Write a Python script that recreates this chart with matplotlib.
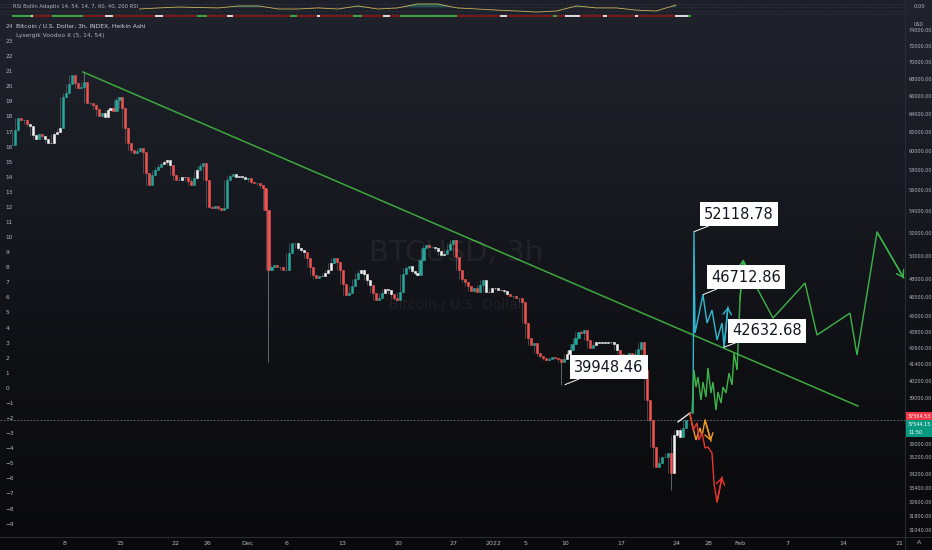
import numpy as np
import pandas as pd
import matplotlib
matplotlib.use("Agg")
import matplotlib.pyplot as plt
import matplotlib.dates as mdates
from matplotlib.colors import LinearSegmentedColormap
from matplotlib.lines import Line2D
from matplotlib.ticker import FixedLocator, FuncFormatter, NullLocator

W, H = 932, 550
base = pd.Timestamp("2021-11-08")

# ---------------- data ----------------
candle_start = "2021-11-01 10:00"
closes = [
    60590, 62200, 63510, 63290, 63290, 62850, 62630, 61660, 61230, 61770,
    61550, 61230, 60810, 60810, 61770, 61980, 62420, 65870, 66340, 67380,
    68440, 67500, 66910, 67030, 67620, 65190, 65190, 64960, 64510, 63730,
    64070, 63620, 64400, 64620, 64290, 65530, 65870, 64620, 62420, 60810,
    60070, 59760, 59970, 60280, 59860, 57720, 56520, 57520, 58020, 58320,
    58630, 58840, 59040, 58530, 57520, 57020, 57020, 57320, 57320, 56920,
    56520, 57220, 58020, 58420, 58730, 57020, 54400, 54310, 54490, 54310,
    54120, 54310, 57020, 57410, 57620, 57320, 57410, 57320, 57120, 57220,
    56820, 56720, 56720, 56520, 56230, 54120, 48760, 49010, 49180, 49010,
    49010, 48760, 48760, 50220, 51100, 51100, 50660, 50480, 50310, 49790,
    49010, 48330, 48080, 48250, 48250, 48500, 48760, 49360, 49790, 49440,
    48760, 47590, 46680, 46850, 47420, 48000, 48500, 48760, 48420, 47920,
    47500, 46850, 46280, 46440, 46850, 47170, 47090, 46770, 46440, 46280,
    46930, 48420, 48930, 49100, 48670, 48500, 48330, 49610, 50660, 50920,
    50750, 50750, 50660, 50400, 50050, 50130, 50480, 51010, 51370, 49870,
    48760, 48000, 47750, 47420, 47010, 47260, 46930, 47500, 47920, 46930,
    46930, 47260, 47260, 47090, 47090, 47010, 46770, 46600, 46600, 46440,
    46440, 46120, 44470, 43320, 42790, 42940, 42200, 41980, 41840, 41690,
    41760, 41910, 41840, 41760, 41550, 41760, 42130, 42420, 42870, 43320,
    43770, 43700, 43930, 43170, 42570, 42790, 43020, 42940, 43020, 42940,
    43020, 43020, 42870, 42420, 42130, 41910, 42060, 42200, 42060, 42130,
    42500, 43020, 40970, 38890, 37570, 35840, 34610, 34860, 35220, 35220,
    35470, 34250, 36600, 36920, 36470, 37050, 37570,
]
# candles the indicator paints white (first, last index)
white_runs = [(6, 8), (11, 13), (14, 16), (31, 33), (51, 53), (57, 58), (62, 62),
              (75, 78), (96, 98), (104, 107), (117, 120), (125, 127), (134, 136),
              (142, 145), (159, 166), (186, 187), (196, 203), (222, 224)]
# long wicks
wick_idx = [24, 86, 184, 221]
wick_end = [68800, 41550, 39948.46, 33250]

last_price = 37544.15
prev_price = 37564.53

# trend line (days after 2021-11-08)
trend_days = [2.33, 99.83]
trend_price = [68800, 38490]

# drawn projections
cyan_days = [79.08, 79.20, 79.33, 80.33, 80.84, 81.47, 82.10, 82.73, 82.98, 83.48]
cyan_price = [38030, 52118.78, 43700, 46712.86, 44470, 45480, 43170, 44470, 42632.68, 45720]
green_days = [78.95, 79.20, 79.45, 79.70, 80.08, 80.33, 80.71, 80.96, 81.34, 81.59,
              81.97, 82.22, 82.60, 82.85, 83.23, 83.61, 83.99, 84.24, 84.62, 84.99,
              85.37, 87.26, 89.14, 93.17, 94.68, 98.83, 99.71, 102.23, 105.6]
green_price = [38030, 40970, 39780, 40480, 38890, 40130, 39100, 41120, 39370, 40130,
               38220, 39440, 38690, 39780, 39370, 40760, 39920, 42200, 40970, 46280,
               49610, 47090, 44850, 47670, 43550, 45240, 42060, 52090, 48080]
orange_days = [78.70, 79.45, 79.96, 80.21, 80.59, 81.34]
orange_price = [37890, 36280, 37050, 36530, 37570, 36215]
red_days = [78.70, 79.08, 79.58, 79.83, 80.21, 80.59, 80.96, 81.47, 81.59, 81.72, 82.10, 82.73]
red_price = [38030, 36920, 37370, 36280, 36730, 35780, 35840, 35470, 34610, 33660, 32570, 34020]
white_days = [77.19, 78.70]
white_price = [37440, 38030]

# price callouts: label, day, price, box offset (px)
notes = [("52118.78", 79.20, 52118.78, (10, 10)),
         ("46712.86", 80.33, 46712.86, (8, 10)),
         ("42632.68", 82.98, 42632.68, (8, 9)),
         ("39948.46", 62.97, 39948.46, (9, 10))]

price_ticks = [74000, 72000, 70000, 68000, 66000, 64000, 62000, 60000, 58000, 56000,
               54000, 52000, 50000, 48000, 46500, 45000, 43800, 42600, 41400, 40200,
               39000, 36000, 35200, 34200, 33400, 32600, 31800, 31040]
osc_ticks = list(range(-9, 25))

date_ticks = ["2021-11-08", "2021-11-15", "2021-11-22", "2021-11-26", "2021-12-01",
              "2021-12-06", "2021-12-13", "2021-12-20", "2021-12-27", "2022-01-01",
              "2022-01-05", "2022-01-10", "2022-01-17", "2022-01-24", "2022-01-28",
              "2022-02-01", "2022-02-07", "2022-02-14", "2022-02-21"]
date_labels = ["8", "15", "22", "26", "Dec", "6", "13", "20", "27", "2022",
               "5", "10", "17", "24", "28", "Feb", "7", "14", "21"]

# RSI strip on top
rsi_start = "2021-11-02 10:00"
rsi = [55, 61, 67, 67, 50, 56, 50, 56, 61, 58, 56, 67, 67, 50, 50, 56, 50, 67, 50, 56,
       78, 78, 56, 50, 44, 39, 33, 39, 67, 56, 56, 44, 39, 72]
strip_edges = [-6.61, -4.21, -3.96, -1.57, 2.33, 5.10, 6.10, 11.39, 12.39, 16.67, 17.93,
               20.45, 21.20, 28.37, 29.25, 31.77, 32.15, 36.30, 37.44, 40.08, 40.96,
               42.22, 49.39, 54.80, 55.68, 61.46, 61.97, 62.97, 64.86, 67.75, 68.26,
               71.78, 72.16, 76.82, 78.45, 78.83]
strip_colors = list("GWRGRWRWRGRWRGRWRGRWRGRWRGRWRWRWRWG")

# ---------------- helpers ----------------
def dnum(days):
    d = np.atleast_1d(np.asarray(days, dtype=float))
    return mdates.date2num((base + pd.to_timedelta(d, unit="D")).to_numpy())

TXT = "#b2b5be"
TEAL = "#26a69a"
RED = "#ef5350"

fig = plt.figure(figsize=(W / 100, H / 100), dpi=100)

# background gradient
bg = fig.add_axes([0, 0, 1, 1], zorder=-5)
cm = LinearSegmentedColormap.from_list("bg", ["#20232c", "#181a21", "#0f1014", "#0a0a0c"])
bg.imshow(np.linspace(0, 1, 256).reshape(-1, 1), cmap=cm, aspect="auto", extent=[0, 1, 0, 1])
bg.axis("off")

xl = dnum([-8.115, 105.75])

# ---------------- main price pane ----------------
ax = fig.add_axes([0, 13 / H, 905 / W, 519 / H])
ax.set_facecolor("none")
ax.set_yscale("log")
ax.set_xlim(xl[0], xl[1])
ax.set_ylim(30650, 75576)

# oscillator scale on the left (made first so the price axis stays on the right)
ax2 = ax.twinx()
ax2.set_ylim(-9.89, 24.53)
ax2.set_yticks(osc_ticks)
ax2.yaxis.tick_left()
ax2.tick_params(axis="y", length=0, pad=-4, labelsize=4.2, labelcolor=TXT)
plt.setp(ax2.get_yticklabels(), ha="left")
ax2.xaxis.set_visible(False)
for s in ax2.spines.values():
    s.set_visible(False)
ax2.patch.set_visible(False)
ax2.set_zorder(0)
ax.set_zorder(1)
ax.patch.set_visible(False)

t = mdates.date2num(pd.date_range(candle_start, periods=len(closes), freq="9h").to_numpy())
c = np.array(closes, float)
o = np.r_[c[0], c[:-1]]
nxt = np.r_[c[1:], c[-1]]
lo = np.minimum.reduce([o, c, nxt])
hi = np.maximum.reduce([o, c, nxt])
cols = np.where(c >= o, TEAL, RED).astype(object)
for a, b in white_runs:
    cols[a:b + 1] = "#f2f2f2"

ax.vlines(t, lo, hi, color="#8a8d96", lw=0.5, alpha=0.6, zorder=2)
for i, e in zip(wick_idx, wick_end):
    ax.vlines(t[i], min(e, c[i]), max(e, c[i]), color="#8a8d96", lw=0.6, alpha=0.8, zorder=2)
ax.bar(t, np.abs(c - o), bottom=np.minimum(o, c), width=0.26, color=list(cols),
       edgecolor=list(cols), linewidth=0.4, zorder=3)

ax.axhline(last_price, color="#787b86", lw=0.6, ls=(0, (2, 2)), zorder=1)

ax.plot(dnum(trend_days), trend_price, color="#3da83d", lw=1.1, zorder=4)

def path(days, prices, color, arrows):
    xs = dnum(days)
    ax.plot(xs, prices, color=color, lw=1.0, zorder=5, solid_joinstyle="miter")
    for i in arrows:
        ax.annotate("", xy=(xs[i], prices[i]), xytext=(xs[i - 1], prices[i - 1]),
                    arrowprops=dict(arrowstyle="->,head_length=0.45,head_width=0.3",
                                    color=color, lw=1.0, shrinkA=0, shrinkB=0),
                    zorder=5)

path(white_days, white_price, "#e6e6e6", [])
path(cyan_days, cyan_price, "#2fb8cf", [len(cyan_days) - 1])
path(green_days, green_price, "#3cb54a", [20, len(green_days) - 1])
path(orange_days, orange_price, "#f59b23", [len(orange_days) - 1])
path(red_days, red_price, "#e8362f", [len(red_days) - 1])

for label, d, p, off in notes:
    ax.annotate(label, xy=(dnum(d)[0], p), xytext=off, textcoords="offset pixels",
                ha="left", va="bottom", fontsize=10.5, color="#131722",
                bbox=dict(boxstyle="square,pad=0.3", fc="white", ec="none"),
                arrowprops=dict(arrowstyle="-", color="white", lw=0.7, shrinkA=0, shrinkB=0),
                zorder=7)

# price axis on the right
ax.yaxis.tick_right()
ax.yaxis.set_major_locator(FixedLocator(price_ticks))
ax.yaxis.set_minor_locator(NullLocator())
ax.yaxis.set_major_formatter(FuncFormatter(lambda v, p: f"{v:.2f}"))
ax.tick_params(axis="y", length=0, pad=2.5, labelsize=3.5, labelcolor=TXT)
ax.set_xticks(mdates.date2num(pd.to_datetime(date_ticks).to_numpy()))
ax.set_xticklabels(date_labels)
ax.tick_params(axis="x", length=0, pad=3, labelsize=4.5, labelcolor=TXT)
for s in ["top", "left", "right", "bottom"]:
    ax.spines[s].set_visible(False)

# current price tags
yt = ax.get_yaxis_transform()
ax.annotate(f"{prev_price:.2f}", xy=(1, prev_price), xycoords=yt, xytext=(3, 1),
            textcoords="offset pixels", ha="left", va="bottom", fontsize=3.5, color="white",
            bbox=dict(boxstyle="square,pad=0.4", fc="#f23645", ec="none"),
            annotation_clip=False, zorder=8)
ax.annotate(f"{last_price:.2f}\n11:50", xy=(1, last_price), xycoords=yt, xytext=(3, -2),
            textcoords="offset pixels", ha="left", va="top", fontsize=3.5, color="white",
            linespacing=1.6, bbox=dict(boxstyle="square,pad=0.4", fc="#089981", ec="none"),
            annotation_clip=False, zorder=8)

# ---------------- RSI pane ----------------
rx = fig.add_axes([0, 1 - 18 / H, 905 / W, 18 / H])
rx.set_facecolor("#1d2028")
rx.set_xlim(xl[0], xl[1])
rx.set_ylim(0, 100)
rt = mdates.date2num(pd.date_range(rsi_start, periods=len(rsi), freq="60h").to_numpy())
rv = np.array(rsi, float)
for lvl in [78, 61, 39, 22]:
    rx.axhline(lvl, color="#4a4e5a", lw=0.5, ls=(0, (1, 2)))
rx.fill_between(rt, rv, 60, where=rv > 60, interpolate=True, color="#1f7a73", alpha=0.6, lw=0)
rx.plot(rt, rv, color="#c7b45a", lw=0.6)
ccode = {"G": "#3fa33f", "R": "#7d1717", "W": "#d9d9d9"}
ex = dnum(strip_edges)
rx.broken_barh([(ex[i], ex[i + 1] - ex[i]) for i in range(len(strip_colors))], (6, 13),
               facecolors=[ccode[k] for k in strip_colors])
rx.set_xticks([])
rx.set_yticks([])
for s in rx.spines.values():
    s.set_visible(False)
rx.text(0.014, 0.62, "RSI Bollin Adaptiv 14, 54, 14, 7, 60, 40, 200 RSI", transform=rx.transAxes,
        fontsize=3.8, color=TXT, va="center", ha="left",
        bbox=dict(boxstyle="square,pad=0.2", fc="#1d2028", ec="none"))

# ---------------- labels & frame ----------------
fig.text(16 / W, 1 - 26 / H, "Bitcoin / U.S. Dollar, 3h, INDEX, Heikin Ashi", fontsize=4.3,
         color="#d1d4dc", va="center")
fig.text(16 / W, 1 - 36 / H, "Lysergik Voodoo X (5, 14, 54)", fontsize=4.3, color=TXT, va="center")
fig.text(456 / W, 1 - 253 / H, "BTCUSD, 3h", fontsize=21, color="white", alpha=0.06,
         ha="center", va="center")
fig.text(456 / W, 1 - 304 / H, "Bitcoin / U.S. Dollar", fontsize=10, color="white", alpha=0.06,
         ha="center", va="center")
fig.text(919 / W, 1 - 6 / H, "0.00", fontsize=3.8, color=TXT, ha="center", va="center")
fig.text(919 / W, 1 - 24 / H, "USD", fontsize=3.4, color=TXT, ha="center", va="center")
fig.text(919 / W, 1 - 543 / H, "A", fontsize=4.5, color=TXT, ha="center", va="center")

fig.add_artist(Line2D([0, 1], [13 / H, 13 / H], transform=fig.transFigure, color="#2a2e39", lw=0.7))
fig.add_artist(Line2D([905 / W, 905 / W], [0, 1], transform=fig.transFigure, color="#2a2e39", lw=0.7))

fig.savefig("out.png", dpi=100)
